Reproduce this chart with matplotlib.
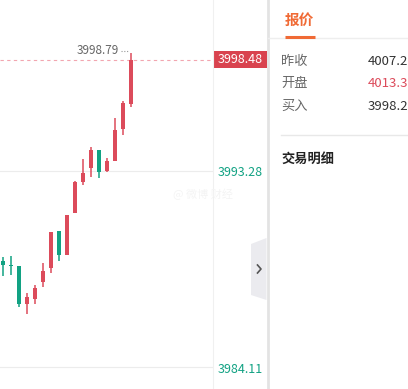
import numpy as np
import matplotlib
matplotlib.use("Agg")
import matplotlib.pyplot as plt
from matplotlib.patches import Polygon, Rectangle

plt.rcParams['font.family'] = ['Noto Sans CJK SC', 'DejaVu Sans']

# candle data (1-minute bars)
opens = [3989.07, 3988.86, 3988.84, 3987.07, 3987.31, 3988.10, 3988.76, 3990.47, 3989.35,
         3991.33, 3992.78, 3993.42, 3994.26, 3993.29, 3993.76, 3995.24, 3996.41]
closes = [3988.88, 3988.84, 3987.06, 3987.39, 3987.82, 3988.60, 3990.43, 3989.35, 3991.22,
          3992.78, 3993.19, 3994.26, 3993.25, 3993.75, 3995.20, 3996.46, 3998.48]
highs = [3989.26, 3989.30, 3988.84, 3987.57, 3987.95, 3988.99, 3990.43, 3990.47, 3991.22,
         3992.80, 3993.84, 3994.42, 3994.26, 3993.89, 3995.76, 3996.55, 3998.79]
lows = [3988.37, 3988.41, 3986.92, 3986.60, 3987.06, 3987.87, 3988.52, 3989.07, 3989.35,
        3991.30, 3992.63, 3993.00, 3992.95, 3993.25, 3993.76, 3994.96, 3996.29]

last_price = 3998.48
max_high = 3998.79
axis_ticks = [3993.28, 3984.11]

quote_labels = ['昨收', '开盘', '买入']
quote_values = ['4007.2', '4013.3', '3998.2']

RED = '#dc4b5b'
GREEN = '#12a283'
W, H = 408, 389

fig = plt.figure(figsize=(W / 100, H / 100), dpi=100)
fig.patch.set_facecolor('white')

# main candle area: x 0..213 px, full height
ax = fig.add_axes([0, 0, 213 / W, 1])
ax.set_xlim(-0.375, 26.25)
ax.set_ylim(3983.08, 4001.28)
ax.axis('off')

for t in axis_ticks:
    ax.axhline(t, color='#ececec', lw=0.8, zorder=0)

x = np.arange(len(opens))
for i in x:
    o, c, h, l = opens[i], closes[i], highs[i], lows[i]
    col = GREEN if c < o else RED
    ax.vlines(i, l, h, color=col, lw=1.1, zorder=2)
    bot = min(o, c)
    ht = max(abs(c - o), 0.05)
    ax.add_patch(Rectangle((i - 0.3, bot), 0.6, ht, color=col, lw=0, zorder=3))

# last price dashed line
ax.axhline(last_price, color='#f2a6b0', lw=0.8, ls=(0, (3, 3)), zorder=1)

# max high annotation
ax.text(14.5, max_high + 0.12, f'{max_high:.2f}', ha='right', va='center',
        fontsize=8.5, color='#666666')
ax.plot([14.7, 15.8], [max_high + 0.12, max_high + 0.12], color='#999999',
        lw=0.8, ls=(0, (1, 1.5)))

# price scale labels
ytr = ax.get_yaxis_transform()
ax.add_patch(Rectangle((1.0, last_price - 0.4), 54 / 213, 0.8, transform=ytr,
                       color='#d9434f', lw=0, clip_on=False))
ax.text(1.0 + 27 / 213, last_price, f'{last_price:.2f}', transform=ytr, ha='center',
        va='center', fontsize=9, color='white', clip_on=False)
for t, dy in zip(axis_ticks, [-0.06, -0.14]):
    ax.text(1.0 + 27 / 213, t + dy, f'{t:.2f}', transform=ytr, ha='center',
            va='center', fontsize=9, color=GREEN, clip_on=False)

# overlay in pixel coords for the layout pieces
ov = fig.add_axes([0, 0, 1, 1], zorder=5)
ov.set_xlim(0, W)
ov.set_ylim(H, 0)
ov.axis('off')
ov.patch.set_alpha(0)

ov.plot([213, 213], [0, H], color='#f0f0f0', lw=0.8)
ov.plot([267.5, 267.5], [0, H], color='#e3e3e3', lw=2)
ov.add_patch(Polygon([[251, 244], [266.5, 238], [266.5, 300], [251, 295]],
                     closed=True, color='#ebebef', lw=0))
ov.plot([257.5, 261, 257.5], [265, 269, 273], color='#555555', lw=1.2)

# faint watermark
ov.text(203, 194, '@ 微博 财经', ha='center', va='center', fontsize=8,
        color='#f4f4f4')

# right panel
ov.text(285, 20, '报价', ha='left', va='center', fontsize=10.5, fontweight='bold',
        color='#f06a35')
ov.plot([268, W], [38, 38], color='#eeeeee', lw=1)
ov.plot([285, 315], [37, 37], color='#f06a35', lw=2.2, solid_capstyle='butt')

rows_y = [61, 83, 106]
for lab, val, yy in zip(quote_labels, quote_values, rows_y):
    ov.text(281, yy, lab, ha='left', va='center', fontsize=9.5, color='#666666')
    col = RED if lab == '开盘' else '#333333'
    ov.text(368, yy, val, ha='left', va='center', fontsize=9.5, color=col, clip_on=True)

ov.plot([281, W], [135, 135], color='#e8e8e8', lw=1)
ov.text(281, 159, '交易明细', ha='left', va='center', fontsize=9.5, fontweight='bold',
        color='#222222')

fig.savefig('out.png', dpi=100, facecolor='white')
